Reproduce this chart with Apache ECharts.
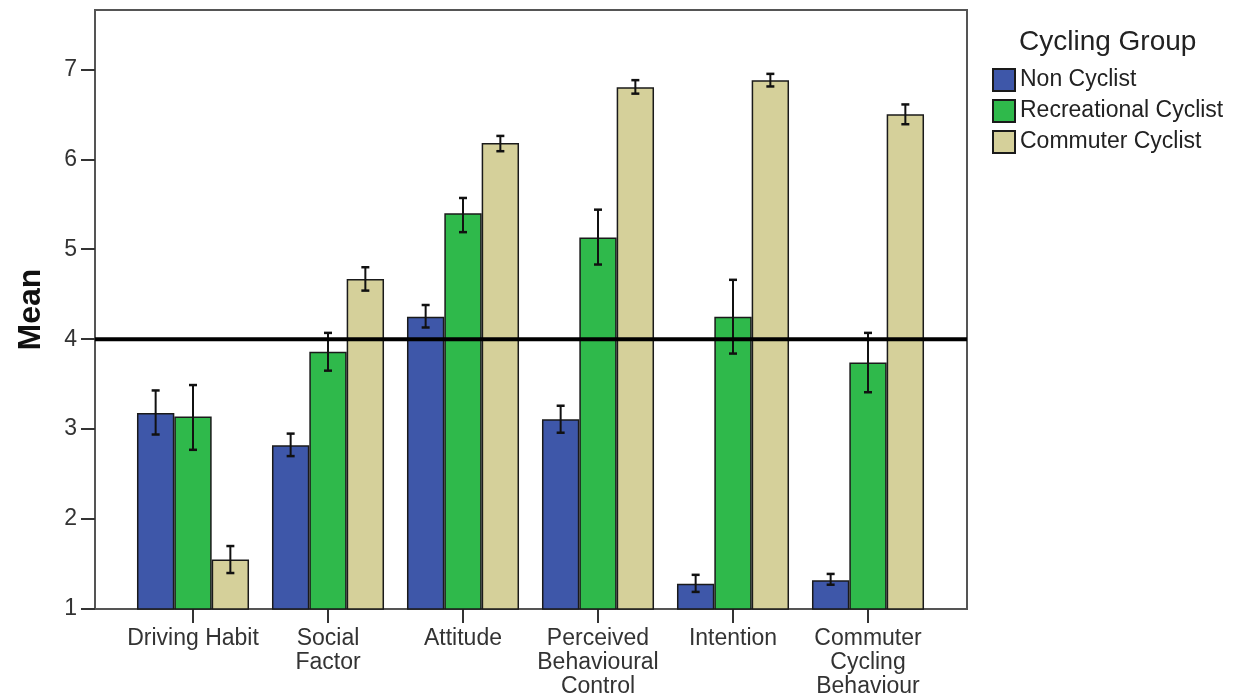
<!DOCTYPE html>
<html>
<head>
<meta charset="utf-8">
<script src="https://cdn.jsdelivr.net/npm/echarts@6/dist/echarts.min.js"></script>
<style>
  html, body { margin: 0; padding: 0; background: #fff; }
  #chart { width: 1235px; height: 700px; }
</style>
</head>
<body>
<div id="chart"></div>
<script>
// Construct categories and cycling groups
const categories = ['Driving Habit', 'Social\nFactor', 'Attitude', 'Perceived\nBehavioural\nControl', 'Intention', 'Commuter\nCycling\nBehaviour'];
const groups = ['Non Cyclist', 'Recreational Cyclist', 'Commuter Cyclist'];

// Group means with error bar bounds
const nonMean  = [3.18, 2.82, 4.25, 3.11, 1.28, 1.32];
const nonLow   = [2.94, 2.70, 4.13, 2.96, 1.19, 1.27];
const nonHigh  = [3.43, 2.95, 4.38, 3.26, 1.38, 1.39];

const recMean  = [3.14, 3.86, 5.40, 5.13, 4.25, 3.74];
const recLow   = [2.77, 3.65, 5.19, 4.83, 3.84, 3.41];
const recHigh  = [3.49, 4.07, 5.57, 5.44, 4.66, 4.07];

const comMean  = [1.55, 4.67, 6.18, 6.80, 6.88, 6.50];
const comLow   = [1.40, 4.54, 6.09, 6.73, 6.81, 6.39];
const comHigh  = [1.70, 4.80, 6.26, 6.88, 6.95, 6.61];

const yTicks = [1, 2, 3, 4, 5, 6, 7];
const referenceLevel = 4;   // scale midpoint

const Y_MIN = 1, Y_MAX = 7.66;
const CAT_GAP = 0.17;
const FONT = '"Liberation Sans", Arial, sans-serif';
const colors = ['#3e57a9', '#2fb94b', '#d5d09a'];

function barSeries(name, values, color) {
  return {
    name: name,
    type: 'bar',
    xAxisIndex: 0,
    yAxisIndex: 0,
    data: values,
    barGap: '0%',
    barCategoryGap: (CAT_GAP * 100) + '%',
    itemStyle: { color: color, borderColor: '#1a1a1a', borderWidth: 1.5 },
    z: 2
  };
}

function errorSeries(low, high, idx) {
  return {
    type: 'custom',
    xAxisIndex: 0,
    yAxisIndex: 0,
    z: 4,
    silent: true,
    data: low.map((l, i) => [i, l, high[i]]),
    encode: { x: 0, y: [1, 2] },
    renderItem: function (params, api) {
      const band = api.size([1, 0])[0];
      const barW = band * (1 - CAT_GAP) / 3;
      const lo = api.coord([api.value(0), api.value(1)]);
      const hi = api.coord([api.value(0), api.value(2)]);
      const x = lo[0] + (idx - 1) * barW;
      const cap = 4;
      const capStyle = { stroke: '#111', lineWidth: 2.5 };
      return {
        type: 'group',
        children: [
          { type: 'line', shape: { x1: x, y1: hi[1], x2: x, y2: lo[1] }, style: { stroke: '#111', lineWidth: 2 } },
          { type: 'line', shape: { x1: x - cap, y1: hi[1], x2: x + cap, y2: hi[1] }, style: capStyle },
          { type: 'line', shape: { x1: x - cap, y1: lo[1], x2: x + cap, y2: lo[1] }, style: capStyle }
        ]
      };
    }
  };
}

const chart = echarts.init(document.getElementById('chart'), null, { renderer: 'canvas' });

chart.setOption({
  animation: false,
  backgroundColor: '#ffffff',
  textStyle: { fontFamily: FONT },
  title: {
    text: 'Cycling Group',
    left: 1014,
    top: 23,
    textStyle: { fontFamily: FONT, fontSize: 28, fontWeight: 'normal', color: '#222' }
  },
  legend: {
    data: groups,
    orient: 'vertical',
    left: 987,
    top: 63,
    itemWidth: 22,
    itemHeight: 22,
    itemGap: 7,
    icon: 'rect',
    textStyle: { fontFamily: FONT, fontSize: 23, color: '#222' }
  },
  grid: [
    { left: 125.5, width: 810, top: 10, bottom: 91 },
    { left: 95, width: 872, top: 10, bottom: 91, show: true, borderColor: '#555', borderWidth: 2, backgroundColor: 'transparent' }
  ],
  xAxis: [
    {
      type: 'category',
      gridIndex: 0,
      data: categories,
      axisLine: { show: false },
      axisTick: { show: true, alignWithLabel: true, length: 14, lineStyle: { color: '#333', width: 2 } },
      axisLabel: { fontFamily: FONT, fontSize: 23, lineHeight: 24, color: '#333', margin: 18, interval: 0 }
    },
    { type: 'value', gridIndex: 1, min: 0, max: 1, show: false }
  ],
  yAxis: [
    { type: 'value', gridIndex: 0, min: Y_MIN, max: Y_MAX, show: false },
    {
      type: 'value',
      gridIndex: 1,
      min: Y_MIN,
      max: Y_MAX,
      name: 'Mean',
      nameLocation: 'middle',
      nameGap: 48,
      nameTextStyle: { fontFamily: FONT, fontSize: 32, fontWeight: 'bold', color: '#111' },
      axisLine: { show: true, lineStyle: { color: '#555', width: 2 } },
      axisTick: { show: true, length: 14, lineStyle: { color: '#333', width: 2 }, customValues: yTicks },
      axisLabel: { fontFamily: FONT, fontSize: 23, color: '#333', margin: 18, customValues: yTicks },
      splitLine: { show: false }
    }
  ],
  series: [
    barSeries(groups[0], nonMean, colors[0]),
    barSeries(groups[1], recMean, colors[1]),
    barSeries(groups[2], comMean, colors[2]),
    errorSeries(nonLow, nonHigh, 0),
    errorSeries(recLow, recHigh, 1),
    errorSeries(comLow, comHigh, 2),
    {
      type: 'line',
      xAxisIndex: 1,
      yAxisIndex: 1,
      data: [[0, referenceLevel], [1, referenceLevel]],
      symbol: 'none',
      silent: true,
      lineStyle: { color: '#000', width: 4 },
      z: 6
    }
  ]
});
</script>
</body>
</html>
